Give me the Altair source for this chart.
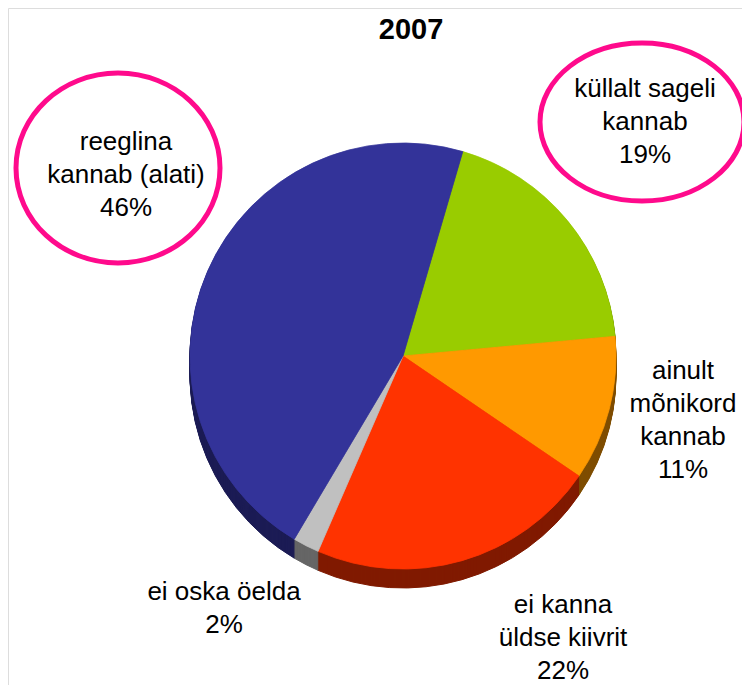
import math
import altair as alt
import pandas as pd

# ---- data ----
categories = ["küllalt sageli kannab", "ainult mõnikord kannab", "ei kanna üldse kiivrit",
              "ei oska öelda", "reeglina kannab (alati)"]
values = [19, 11, 22, 2, 46]
top_colors = ["#99cc00", "#ff9900", "#ff3300", "#c0c0c0", "#333399"]
side_colors = ["#4d6600", "#7f4d00", "#801a00", "#666666", "#1c1c55"]
label_lines = [
    ["küllalt sageli", "kannab", "19%"],
    ["ainult", "mõnikord", "kannab", "11%"],
    ["ei kanna", "üldse kiivrit", "22%"],
    ["ei oska öelda", "2%"],
    ["reeglina", "kannab (alati)", "46%"],
]
title_text = "2007"

# ---- layout ----
W, H = 734, 677
CX, CY, R = 395, 348, 213
DEPTH = 19
START = math.radians(16.3)
label_pos = [(637, 81), (675, 363), (555, 597), (216, 584), (118, 134)]  # first-line centres
ellipses = [(110, 160, 102, 95), (634, 114, 102, 79)]  # cx, cy, rx, ry
FONT = "Liberation Sans"

df = pd.DataFrame({"cat": categories, "value": values, "order": list(range(len(categories)))})

theta = alt.Theta("value:Q", stack=True, scale=alt.Scale(range=[START, START + 2 * math.pi]))
order = alt.Order("order:Q")

layers = []
side_scale = alt.Scale(domain=categories, range=side_colors)
for d in range(DEPTH, 0, -1):
    layers.append(
        alt.Chart(df).mark_arc(outerRadius=R, strokeWidth=1).encode(
            theta=theta, order=order,
            color=alt.Color("cat:N", scale=side_scale, legend=None),
            stroke=alt.Stroke("cat:N", scale=side_scale, legend=None),
            x=alt.value(CX), y=alt.value(CY + d),
        )
    )
side = alt.layer(*layers)

top_scale = alt.Scale(domain=categories, range=top_colors)
top = alt.Chart(df).mark_arc(outerRadius=R, strokeWidth=0.8).encode(
    theta=theta, order=order,
    color=alt.Color("cat:N", scale=top_scale, legend=None),
    stroke=alt.Stroke("cat:N", scale=top_scale, legend=None),
    x=alt.value(CX), y=alt.value(CY),
)

deco = []
# pink ellipses around two labels
for (ex, ey, rx, ry) in ellipses:
    k = ry / rx
    path = f"M-1,0A1,{k:.4f},0,1,0,1,0A1,{k:.4f},0,1,0,-1,0Z"
    deco.append(
        alt.Chart(pd.DataFrame({"a": [0]})).mark_point(
            shape=path, size=(2 * rx) ** 2, filled=False, stroke="#ff0a8c",
            strokeWidth=5, opacity=1,
        ).encode(x=alt.value(ex), y=alt.value(ey))
    )

# labels
for lines, (lx, ly) in zip(label_lines, label_pos):
    deco.append(
        alt.Chart(pd.DataFrame({"t": ["\n".join(lines)]})).mark_text(
            font=FONT, fontSize=26, lineHeight=33, lineBreak="\n",
            align="center", baseline="middle", color="#000000",
        ).encode(text="t:N", x=alt.value(lx), y=alt.value(ly))
    )

# title
deco.append(
    alt.Chart(pd.DataFrame({"t": [title_text]})).mark_text(
        font=FONT, fontSize=29, fontWeight="bold", align="center", baseline="middle", color="#000000",
    ).encode(text="t:N", x=alt.value(403), y=alt.value(22))
)

chart = alt.layer(side, top, *deco).resolve_scale(
    color="independent", stroke="independent"
).properties(
    width=W, height=H, padding=0, autosize="none"
).configure_view(stroke="transparent", strokeWidth=0).configure(background="white")

chart.save("out.html", embed_options={"renderer": "svg", "actions": False})
